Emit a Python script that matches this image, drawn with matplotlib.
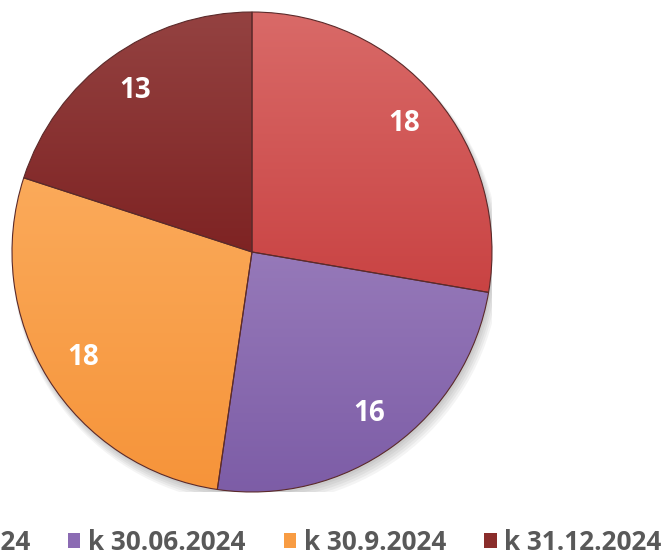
import matplotlib
matplotlib.use("Agg")
import numpy as np
import matplotlib.pyplot as plt
from matplotlib.patches import Patch
from matplotlib.colors import LinearSegmentedColormap

labels = ["k 31.03.2024", "k 30.06.2024", "k 30.9.2024", "k 31.12.2024"]
values = [18, 16, 18, 13]
colors = ["#cf4b49", "#8b6bb3", "#f89c43", "#8a2d2b"]
tops = ["#d96a68", "#9679b9", "#fbaa5a", "#944241"]
bottoms = ["#c94343", "#7c5ca6", "#f6943a", "#7e2323"]

W, H = 667, 558
fig = plt.figure(figsize=(W / 100, H / 100), dpi=100)

cx, cy, R = 252, 252, 240
ax = fig.add_axes([(cx - R) / W, (H - cy - R) / H, 2 * R / W, 2 * R / H])

# soft shadow
for i in range(5):
    ax.add_patch(plt.Circle((0.006 + i * 0.003, -0.012 - i * 0.006), 1.0 + i * 0.004,
                            color="#000000", alpha=0.045, zorder=0, lw=0))

wedges, texts = ax.pie(values, colors=colors, startangle=90, counterclock=False,
                       radius=1.0, labels=[str(v) for v in values], labeldistance=0.83,
                       wedgeprops=dict(edgecolor="#5b2a2a", linewidth=0.8),
                       textprops=dict(color="white", fontsize=20, fontweight="bold", family="Open Sans"))
for t in texts:
    t.set_ha("center")
    t.set_va("center")
    t.set_zorder(5)

grad = np.linspace(0, 1, 256).reshape(-1, 1)
for w, ct, cb in zip(wedges, tops, bottoms):
    path = w.get_path()
    verts = w.get_transform().transform(path.vertices)
    dverts = ax.transData.inverted().transform(verts)
    y0, y1 = dverts[:, 1].min(), dverts[:, 1].max()
    x0, x1 = dverts[:, 0].min(), dverts[:, 0].max()
    cmap = LinearSegmentedColormap.from_list("g", [ct, cb])
    im = ax.imshow(grad, cmap=cmap, extent=(x0, x1, y0, y1), aspect="auto",
                   origin="upper", zorder=1.5, interpolation="bilinear")
    im.set_clip_path(w)
    w.set_zorder(2)
    w.set_facecolor("none")

ax.set_xlim(-1.0, 1.0)
ax.set_ylim(-1.0, 1.0)
ax.set_aspect("equal")
ax.axis("off")

handles = [Patch(facecolor=c, edgecolor="none") for c in colors]
leg = fig.legend(handles, labels, loc="lower left", bbox_to_anchor=(-158 / W, -8 / H),
                 ncol=4, frameon=False, handlelength=0.48, handleheight=0.48,
                 handletextpad=0.3, columnspacing=1.45, borderaxespad=0.0,
                 prop=dict(family="Open Sans", weight="bold", size=18.8))
for t in leg.get_texts():
    t.set_color("#595959")

fig.savefig("out.png", dpi=100)
